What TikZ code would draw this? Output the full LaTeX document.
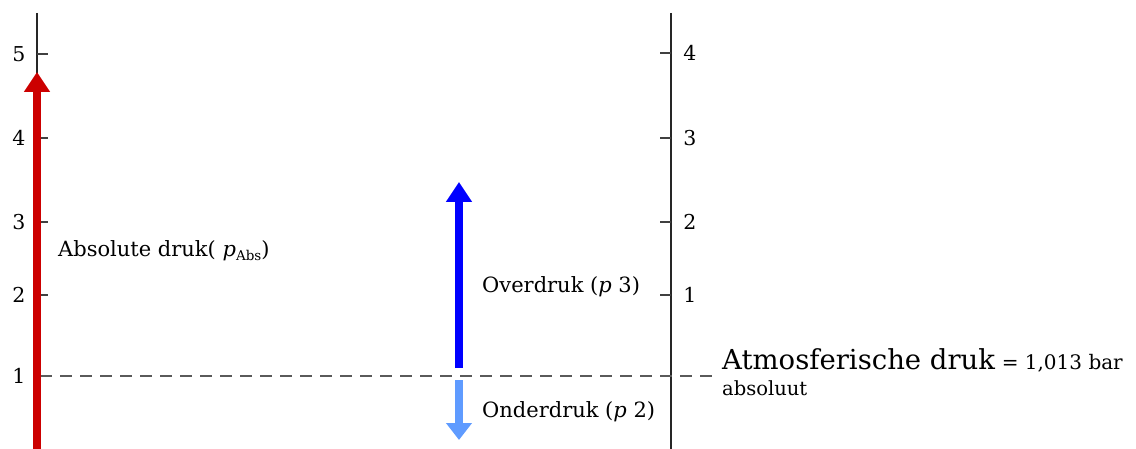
\documentclass[tikz,border=0pt]{standalone}
\usepackage{fontspec}
\setmainfont{DejaVu Serif}
\usetikzlibrary{arrows.meta}
\definecolor{redarr}{RGB}{204,0,0}
\definecolor{bluearr}{RGB}{0,0,255}
\definecolor{lightarr}{RGB}{95,155,255}
\definecolor{dashgray}{RGB}{90,90,90}
\begin{document}
\begin{tikzpicture}[x=1pt,y=-1pt,
  axisline/.style={line width=1.6pt,black!85},
  tickmark/.style={line width=1.4pt,black!75},
  numlabel/.style={font=\fontsize{20.5}{20.5}\selectfont,inner sep=0pt},
  txtlabel/.style={font=\fontsize{21}{21}\selectfont,inner sep=0pt,anchor=base west},
  bigarrow/.style={line width=8pt,-{Triangle[length=20pt,width=25pt]}},
  refline/.style={dashgray,line width=1.8pt,dash pattern=on 12pt off 8pt}]
\useasboundingbox (0,0) rectangle (1136,449);
% axes
\coordinate (LT) at (37,13); \coordinate (LB) at (37,449);
\coordinate (RT) at (671,13); \coordinate (RB) at (671,449);
\draw[axisline] (LT) -- (LB);
\draw[axisline] (RT) -- (RB);
% left ticks and labels
\foreach \v/\y in {5/54,4/138,3/222,2/295,1/376}{
  \draw[tickmark] (37,\y) -- (48,\y);
  \node[numlabel] (l\v) at (19,\y) {\v};
}
% right ticks and labels
\foreach \v/\y in {4/53,3/138,2/222,1/295}{
  \draw[tickmark] (660,\y) -- (671,\y);
  \node[numlabel] (r\v) at (690,\y) {\v};
}
% reference line
\coordinate (DL) at (40,376); \coordinate (DR) at (712,376);
\draw[refline] (DL) -- (DR);
% arrows
\coordinate (redS) at (37,449); \coordinate (redE) at (37,72);
\draw[bigarrow,redarr] (redS) -- (redE);
\coordinate (blueS) at (459,368); \coordinate (blueE) at (459,182);
\draw[bigarrow,bluearr] (blueS) -- (blueE);
\coordinate (lbS) at (459,380); \coordinate (lbE) at (459,440);
\draw[line width=8pt,lightarr,-{Triangle[length=17pt,width=25pt]}] (lbS) -- (lbE);
% labels
\node[txtlabel] (abs) at (58,257) {Absolute druk( \textit{p}\raisebox{-0.3ex}{\fontsize{13.5}{13.5}\selectfont Abs})};
\node[txtlabel] (over) at (482,293) {Overdruk (\textit{p} 3)};
\node[txtlabel] (onder) at (482,417) {Onderdruk (\textit{p} 2)};
\node[txtlabel] (atm) at (722,370) {{\fontsize{27.5}{27.5}\selectfont Atmosferische druk} {\fontsize{20}{20}\selectfont = 1,013 bar}};
\node[txtlabel,font=\fontsize{19.5}{19.5}\selectfont] (absl) at (722,395) {absoluut};
\end{tikzpicture}
\end{document}
